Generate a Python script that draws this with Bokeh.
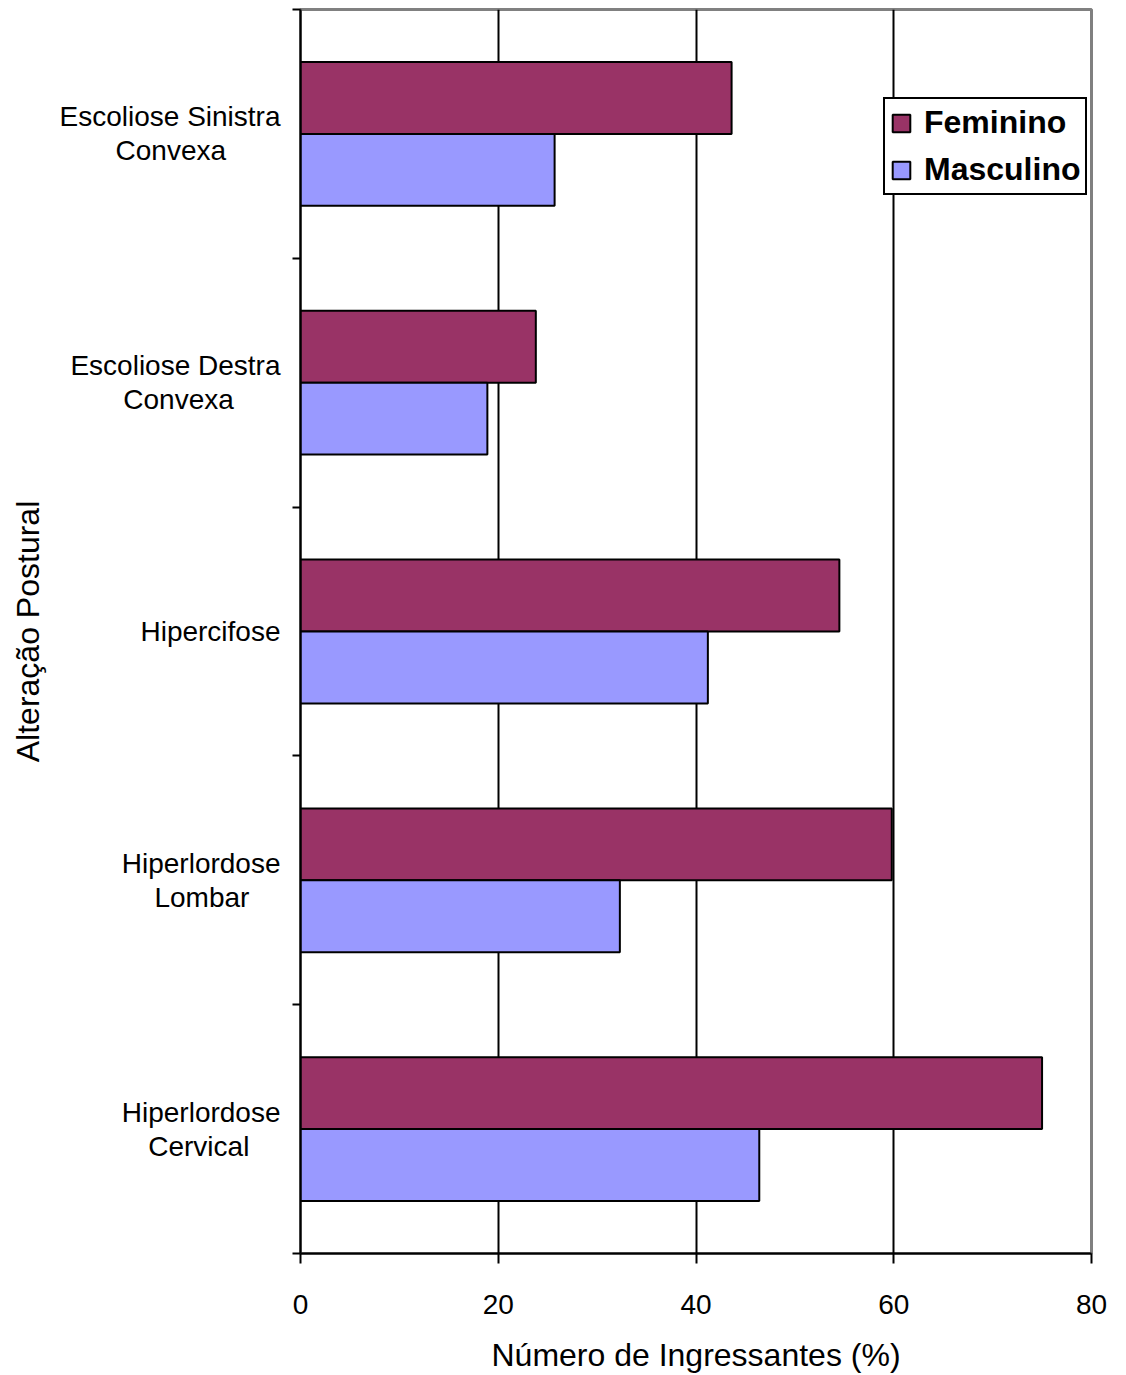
from bokeh.plotting import figure
from bokeh.models import Range1d, FixedTicker, Legend, LegendItem
from bokeh.transform import dodge
from bokeh.embed import file_html
from bokeh.resources import INLINE

categories = ["Escoliose Sinistra\nConvexa", "Escoliose Destra\nConvexa", "Hipercifose",
              "Hiperlordose\nLombar", "Hiperlordose\nCervical"]
feminino = [43.6, 23.8, 54.5, 59.8, 75.0]
masculino = [25.7, 18.9, 41.2, 32.3, 46.4]
x_ticks = [0, 20, 40, 60, 80]

n = len(categories)
ypos = [n - 1 - i for i in range(n)]  # top to bottom

FONT = "Liberation Sans"

# approximate Liberation Sans (Arial metrics) advance widths, in em,
# used only to centre the lines of the multi-line category labels
_W = {" ": .278, "E": .667, "C": .722, "D": .722, "H": .722, "L": .556, "S": .667,
      "a": .556, "b": .556, "c": .5, "d": .556, "e": .556, "f": .278, "i": .222,
      "l": .222, "m": .833, "n": .556, "o": .556, "p": .556, "r": .333, "s": .5,
      "t": .278, "v": .5, "x": .5}


def centred(label):
    lines = label.split("\n")
    widths = [sum(_W.get(ch, .556) for ch in ln) for ln in lines]
    wmax = max(widths)
    out = []
    for ln, w in zip(lines, widths):
        pad = int(round((wmax - w) / 2 / _W[" "]))
        out.append(ln + "\u00a0" * pad)
    return "\n".join(out)


p = figure(width=1120, height=1375, output_backend="svg", toolbar_location=None,
           x_range=Range1d(0, 80), y_range=Range1d(-0.5, n - 0.5),
           min_border_left=300, min_border_top=9, min_border_right=29, min_border_bottom=120)

src = dict(y=ypos, f=feminino, m=masculino)
rf = p.hbar(y=dodge("y", 0.1445, range=p.y_range), right="f", left=0, height=0.289,
            source=src, fill_color="#993366", line_color="black", line_width=2)
rm = p.hbar(y=dodge("y", -0.1445, range=p.y_range), right="m", left=0, height=0.289,
            source=src, fill_color="#9999FF", line_color="black", line_width=2)

# x axis
p.xaxis.ticker = FixedTicker(ticks=x_ticks)
p.xaxis.axis_label = "Número de Ingressantes (%)"
p.xaxis.axis_label_text_font = FONT
p.xaxis.axis_label_text_font_size = "32px"
p.xaxis.axis_label_text_font_style = "normal"
p.xaxis.axis_label_standoff = 20
p.xaxis.major_label_text_font = FONT
p.xaxis.major_label_text_font_size = "28px"
p.xaxis.major_label_standoff = 31
p.xaxis.major_tick_out = 10
p.xaxis.major_tick_in = 0
p.xaxis.minor_tick_out = 0
p.xaxis.axis_line_width = 2
p.xaxis.major_tick_line_width = 2

# y axis: labels at category centres, tick marks at category boundaries
p.yaxis.ticker = FixedTicker(ticks=ypos, minor_ticks=[i - 0.5 for i in range(n + 1)])
p.yaxis.major_label_overrides = {ypos[i]: centred(categories[i]) for i in range(n)}
p.yaxis.axis_label = "Alteração Postural"
p.yaxis.axis_label_text_font = FONT
p.yaxis.axis_label_text_font_size = "32px"
p.yaxis.axis_label_text_font_style = "normal"
p.yaxis.axis_label_standoff = 11
p.yaxis.major_label_text_font = FONT
p.yaxis.major_label_text_font_size = "28px"
p.yaxis.major_label_text_line_height = 1.1
p.yaxis.major_label_standoff = 12
p.yaxis.major_tick_out = 0
p.yaxis.major_tick_in = 0
p.yaxis.minor_tick_out = 8
p.yaxis.minor_tick_in = 0
p.yaxis.minor_tick_line_width = 2
p.yaxis.axis_line_width = 2

for ax in (p.xaxis, p.yaxis):
    ax.axis_line_color = "black"
    ax.major_tick_line_color = "black"
    ax.minor_tick_line_color = "black"
    ax.major_label_text_color = "black"
    ax.axis_label_text_color = "black"

p.xgrid.ticker = FixedTicker(ticks=[20, 40, 60])
p.xgrid.grid_line_color = "black"
p.xgrid.grid_line_width = 2
p.xgrid.grid_line_alpha = 1
p.ygrid.grid_line_color = None

p.outline_line_color = "#808080"
p.outline_line_width = 3

legend = Legend(items=[LegendItem(label="Feminino", renderers=[rf]),
                       LegendItem(label="Masculino", renderers=[rm])],
                location=(583, 1058))
legend.label_text_font = FONT
legend.label_text_font_size = "32px"
legend.label_text_font_style = "bold"
legend.label_text_color = "black"
legend.glyph_width = 22
legend.glyph_height = 22
legend.label_standoff = 12
legend.padding = 5
legend.spacing = 10
legend.margin = 0
legend.border_line_color = "black"
legend.border_line_width = 2
legend.border_line_alpha = 1
legend.background_fill_alpha = 1
p.add_layout(legend, "center")

p.background_fill_color = "white"
p.border_fill_color = "white"

open("out.html", "w").write(file_html(p, INLINE))
